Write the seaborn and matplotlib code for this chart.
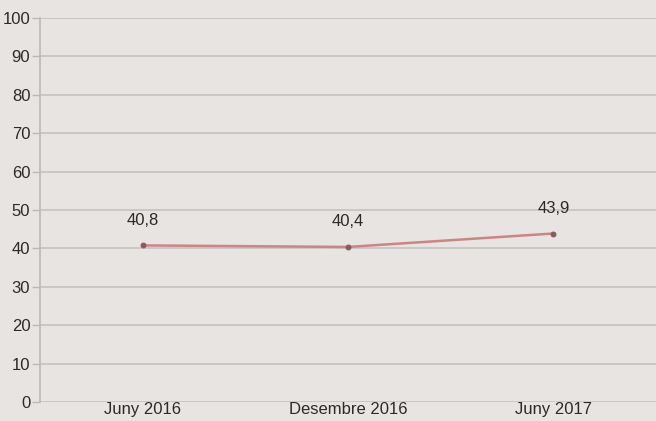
import matplotlib
matplotlib.use("Agg")
import matplotlib.pyplot as plt
import seaborn as sns
import pandas as pd

categories = ["Juny 2016", "Desembre 2016", "Juny 2017"]
values = [40.8, 40.4, 43.9]
labels = ["40,8", "40,4", "43,9"]
yticks = [0, 10, 20, 30, 40, 50, 60, 70, 80, 90, 100]

bg = "#E8E4E1"
sns.set_theme(style="white")
plt.rcParams["font.family"] = ["Liberation Sans", "DejaVu Sans"]

fig = plt.figure(figsize=(6.56, 4.21), dpi=100, facecolor=bg)
ax = fig.add_axes([0.061, 0.045, 0.939, 0.912])
ax.set_facecolor(bg)

df = pd.DataFrame({"cat": categories, "val": values, "x": range(len(categories))})
sns.lineplot(data=df, x="x", y="val", ax=ax, color="#CC8585", linewidth=1.8,
             marker="o", markersize=3.5, markerfacecolor="#8A5A5E", markeredgecolor="#8A5A5E")

for xi, v, lab in zip(df["x"], values, labels):
    ax.text(xi, v + 4.6, lab, ha="center", va="bottom", fontsize=12, color="#2A2A2A")

ax.set_xlim(-0.5, 2.5)
ax.set_ylim(0, 100)
ax.set_yticks(yticks)
ax.set_yticklabels([str(t) for t in yticks])
ax.set_xticks(list(df["x"]))
ax.set_xticklabels(categories)
ax.grid(axis="y", color="#C6C2BF", linewidth=1.2)
ax.grid(axis="x", visible=False)
ax.set_axisbelow(True)
for s in ["top", "right", "bottom"]:
    ax.spines[s].set_visible(False)
ax.spines["left"].set_color("#BDB9B6")
ax.spines["left"].set_linewidth(1.2)
ax.tick_params(axis="y", length=6, width=1, color="#BDB9B6", labelsize=12, labelcolor="#2A2A2A", pad=1, left=True)
ax.tick_params(axis="x", length=0, labelsize=12, labelcolor="#2A2A2A", pad=0)
ax.set_xlabel("")
ax.set_ylabel("")

fig.savefig("out.png", dpi=100, facecolor=bg)
